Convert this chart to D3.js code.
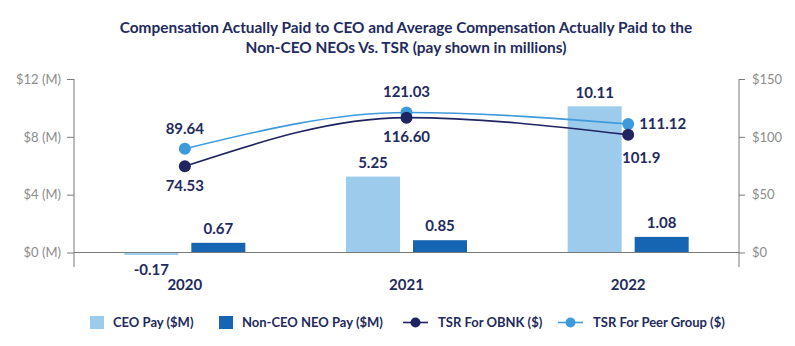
<!DOCTYPE html>
<html>
<head>
<meta charset="utf-8">
<script src="https://cdn.jsdelivr.net/npm/d3@7"></script>
<style>
  body { margin: 0; background: #fff; }
  #chart text { font-family: Lato, "Open Sans", sans-serif; }
</style>
</head>
<body>
<div id="chart"></div>
<script>
// Pay and TSR by year
const years = ["2020", "2021", "2022"];
const ceoPay = [-0.17, 5.25, 10.11];
const neoPay = [0.67, 0.85, 1.08];
const tsrObnk = [74.53, 116.60, 101.9];
const tsrPeer = [89.64, 121.03, 111.12];
const obnkLabels = ["74.53", "116.60", "101.9"];
const peerLabels = ["89.64", "121.03", "111.12"];
const payTicks = [0, 4, 8, 12];
const tsrTicks = [0, 50, 100, 150];

const titleLines = [
  "Compensation Actually Paid to CEO and Average Compensation Actually Paid to the",
  "Non-CEO NEOs Vs. TSR (pay shown in millions)"
];

const navy = "#232a5e";
const lightBar = "#9dcbec";
const darkBar = "#1565b2";
const obnkColor = "#1f2561";
const peerColor = "#3d9bdb";
const axisGray = "#7a7a7a";

const width = 795, height = 346;
const plot = {left: 74, right: 739, top: 79, bottom: 252.5};

const svg = d3.select("#chart")
  .append("svg")
  .attr("width", width)
  .attr("height", height);

// Title
svg.append("g")
  .selectAll("text")
  .data(titleLines)
  .enter()
  .append("text")
  .attr("x", 406)
  .attr("y", (d, i) => 33 + i * 20)
  .attr("text-anchor", "middle")
  .attr("fill", navy)
  .style("font-size", "15.4px")
  .style("font-weight", "bold")
  .text(d => d);

// Scales
const x = d3.scaleBand()
  .domain(years)
  .range([plot.left, plot.right]);

const barKeys = ["ceo", "neo"];
const x1 = d3.scaleBand()
  .domain(barKeys)
  .range([0, 121])
  .paddingInner(13 / 67);

const yPay = d3.scaleLinear()
  .domain([0, 12])
  .range([plot.bottom, plot.top]);

const yTsr = d3.scaleLinear()
  .domain([0, 150])
  .range([plot.bottom, plot.top]);

// Left axis
const leftAxis = svg.append("g")
  .attr("transform", `translate(${plot.left},0)`)
  .call(d3.axisLeft(yPay).tickValues(payTicks).tickSize(7).tickPadding(6)
    .tickFormat(d => `$${d} (M)`));
leftAxis.select(".domain").remove();
leftAxis.append("line")
  .attr("y1", plot.top).attr("y2", 267)
  .attr("stroke", axisGray);

// Right axis
const rightAxis = svg.append("g")
  .attr("transform", `translate(${plot.right},0)`)
  .call(d3.axisRight(yTsr).tickValues(tsrTicks).tickSize(6).tickPadding(7)
    .tickFormat(d => `$${d}`));
rightAxis.select(".domain").remove();
rightAxis.append("line")
  .attr("y1", plot.top).attr("y2", 267)
  .attr("stroke", axisGray);

svg.selectAll(".tick line").attr("stroke", axisGray);
svg.selectAll(".tick text")
  .attr("fill", "#8c8c8c")
  .style("font-size", "13px");

// Bars
const barData = years.map((yr, i) => ({year: yr, ceo: ceoPay[i], neo: neoPay[i]}));
const barColor = {ceo: lightBar, neo: darkBar};

const groups = svg.append("g")
  .selectAll("g")
  .data(barData)
  .enter()
  .append("g")
  .attr("transform", d => `translate(${x(d.year) + x.bandwidth() / 2 - 60.5},0)`);

const bars = groups.selectAll("rect")
  .data(d => barKeys.map(k => ({key: k, value: d[k]})))
  .enter();

bars.append("rect")
  .attr("x", d => x1(d.key))
  .attr("y", d => yPay(Math.max(0, d.value)))
  .attr("width", x1.bandwidth())
  .attr("height", d => Math.abs(yPay(d.value) - yPay(0)))
  .attr("fill", d => barColor[d.key]);

bars.append("text")
  .attr("x", d => x1(d.key) + x1.bandwidth() / 2)
  .attr("y", d => d.value < 0 ? yPay(d.value) + 15 : yPay(d.value) - 14)
  .attr("dy", "0.35em")
  .attr("text-anchor", "middle")
  .attr("fill", navy)
  .style("font-size", "15px")
  .style("font-weight", "bold")
  .text(d => d.value.toFixed(2));

// Baseline
svg.append("line")
  .attr("x1", plot.left).attr("x2", plot.right)
  .attr("y1", yPay(0)).attr("y2", yPay(0))
  .attr("stroke", axisGray);

// Year labels
svg.append("g")
  .selectAll("text")
  .data(years)
  .enter()
  .append("text")
  .attr("x", d => x(d) + x.bandwidth() / 2)
  .attr("y", 285)
  .attr("dy", "0.35em")
  .attr("text-anchor", "middle")
  .attr("fill", navy)
  .style("font-size", "15px")
  .style("font-weight", "bold")
  .text(d => d);

// TSR lines
const cx = i => x(years[i]) + x.bandwidth() / 2;
const line = d3.line()
  .x((d, i) => cx(i))
  .y(d => yTsr(d))
  .curve(d3.curveMonotoneX);

const series = [
  {values: tsrPeer, color: peerColor},
  {values: tsrObnk, color: obnkColor}
];

series.forEach(s => {
  svg.append("path")
    .datum(s.values)
    .attr("fill", "none")
    .attr("stroke", s.color)
    .attr("stroke-width", 1.6)
    .attr("d", line);
});

series.forEach(s => {
  svg.append("g")
    .selectAll("circle")
    .data(s.values)
    .enter()
    .append("circle")
    .attr("cx", (d, i) => cx(i))
    .attr("cy", d => yTsr(d))
    .attr("r", 6)
    .attr("fill", s.color);
});

// TSR value labels: peer above, OBNK below (last peer label sits to the right)
const peerOffsets = [[0, -20], [0, -21], [11, 0]];
const obnkOffsets = [[0, 20], [0, 19], [13, 23]];

svg.append("g")
  .selectAll("text")
  .data(tsrPeer)
  .enter()
  .append("text")
  .attr("x", (d, i) => cx(i) + peerOffsets[i][0])
  .attr("y", d => yTsr(d))
  .attr("dy", (d, i) => peerOffsets[i][1] + 5)
  .attr("text-anchor", (d, i) => i === 2 ? "start" : "middle")
  .attr("fill", navy)
  .style("font-size", "15px")
  .style("font-weight", "bold")
  .text((d, i) => peerLabels[i]);

svg.append("g")
  .selectAll("text")
  .data(tsrObnk)
  .enter()
  .append("text")
  .attr("x", (d, i) => cx(i) + obnkOffsets[i][0])
  .attr("y", d => yTsr(d))
  .attr("dy", (d, i) => obnkOffsets[i][1] + 5)
  .attr("text-anchor", "middle")
  .attr("fill", navy)
  .style("font-size", "15px")
  .style("font-weight", "bold")
  .text((d, i) => obnkLabels[i]);

// Legend
const legendY = 322.5;
const legendItems = [
  {label: "CEO Pay ($M)", type: "rect", color: lightBar, x: 90, tx: 113},
  {label: "Non-CEO NEO Pay ($M)", type: "rect", color: darkBar, x: 219, tx: 242},
  {label: "TSR For OBNK ($)", type: "line", color: obnkColor, x: 403, tx: 438},
  {label: "TSR For Peer Group ($)", type: "line", color: peerColor, x: 558, tx: 593}
];

const legend = svg.append("g")
  .selectAll("g")
  .data(legendItems)
  .enter()
  .append("g");

legend.filter(d => d.type === "rect")
  .append("rect")
  .attr("x", d => d.x)
  .attr("y", legendY - 6.5)
  .attr("width", 14)
  .attr("height", 13)
  .attr("fill", d => d.color);

const lineItems = legend.filter(d => d.type === "line");
lineItems.append("line")
  .attr("x1", d => d.x).attr("x2", d => d.x + 25)
  .attr("y1", legendY).attr("y2", legendY)
  .attr("stroke", d => d.color)
  .attr("stroke-width", 1.6);
lineItems.append("circle")
  .attr("cx", d => d.x + 12.5)
  .attr("cy", legendY)
  .attr("r", 5)
  .attr("fill", d => d.color);

legend.append("text")
  .attr("x", d => d.tx)
  .attr("y", legendY)
  .attr("dy", "0.35em")
  .attr("fill", navy)
  .style("font-size", "13px")
  .style("font-weight", "bold")
  .text(d => d.label);
</script>
</body>
</html>
